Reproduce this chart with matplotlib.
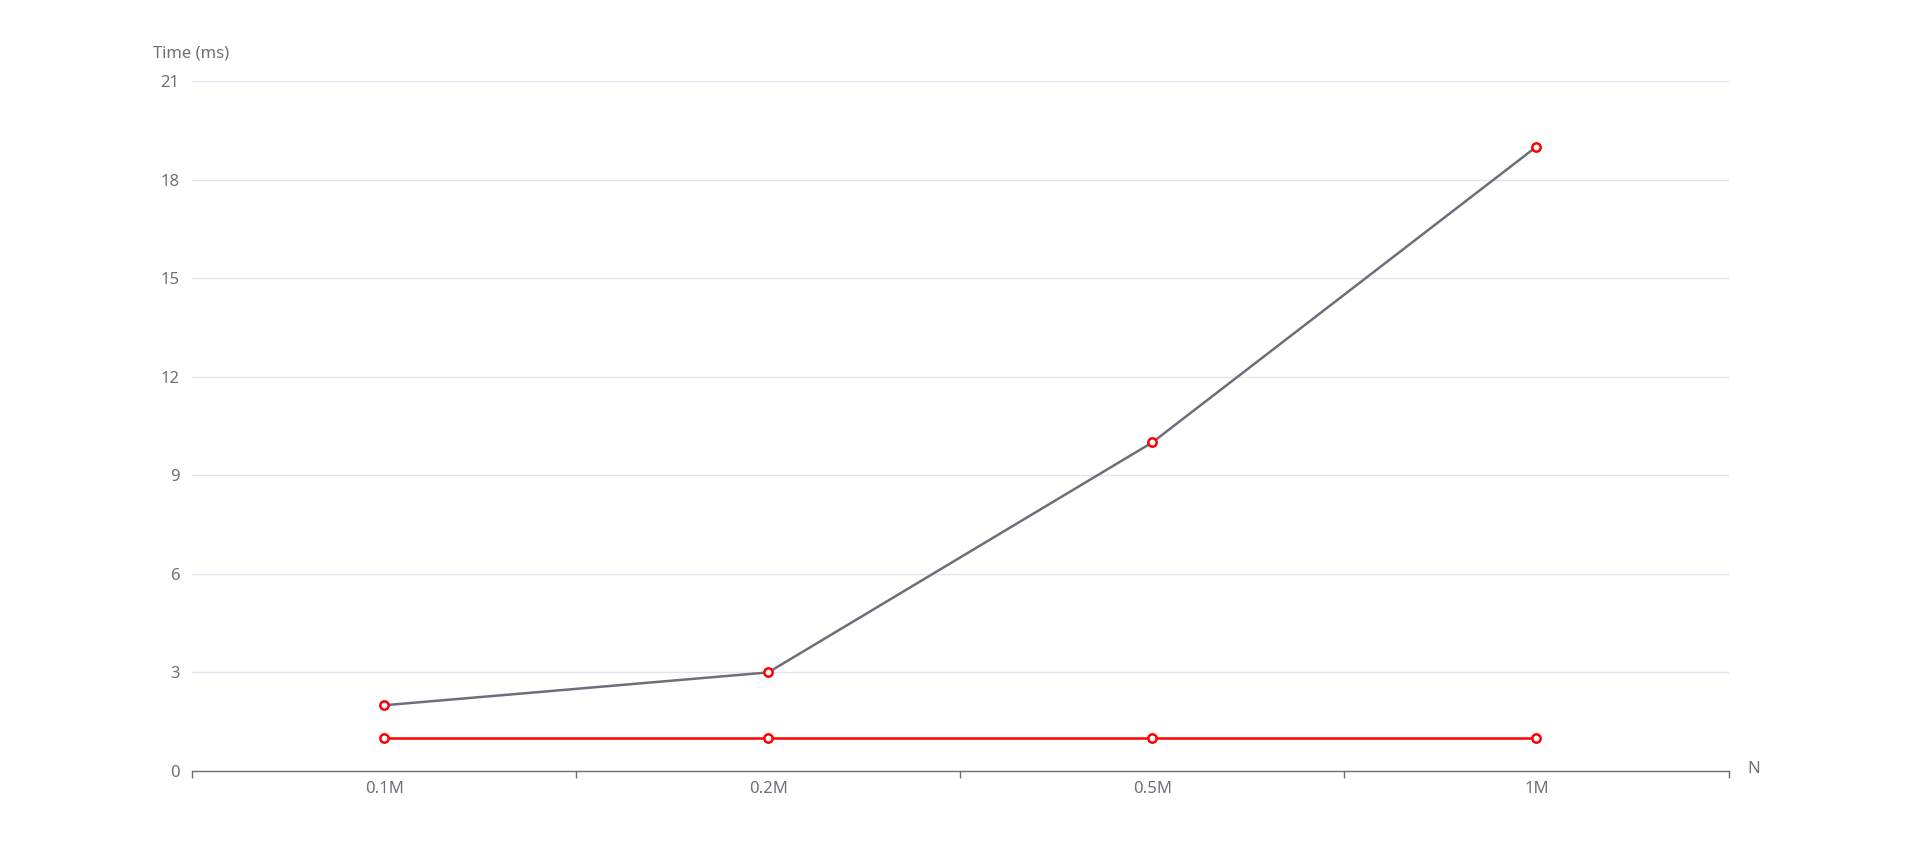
import matplotlib
matplotlib.use('Agg')
import matplotlib.pyplot as plt

categories = ['0.1M', '0.2M', '0.5M', '1M']
series_grey = [2, 3, 10, 19]
series_red = [1, 1, 1, 1]
y_ticks = [0, 3, 6, 9, 12, 15, 18, 21]

TEXT = '#6e7079'
GRID = '#e0e6f1'

plt.rcParams['font.family'] = ['Noto Sans', 'DejaVu Sans']

W, H = 1919, 865
fig = plt.figure(figsize=(W / 100, H / 100), dpi=100)
ax = fig.add_axes([192 / W, (H - 771) / H, (1728.5 - 192) / W, (771 - 81) / H])

x = list(range(len(categories)))
ax.plot(x, series_grey, color='#6e6e7a', lw=1.8, marker='o', ms=6,
        mfc='white', mec='#ff0000', mew=1.8, zorder=3)
ax.plot(x, series_red, color='#ff0000', lw=1.8, marker='o', ms=6,
        mfc='white', mec='#ff0000', mew=1.8, zorder=3)

ax.set_xlim(-0.5, len(categories) - 0.5)
ax.set_ylim(0, 21)
ax.set_yticks(y_ticks)
ax.set_yticklabels([str(t) for t in y_ticks], color=TEXT, fontsize=12)
ax.tick_params(axis='y', length=0, pad=9)
ax.grid(axis='y', color=GRID, lw=1)
ax.set_axisbelow(True)

ax.set_xticks(x)
ax.set_xticklabels(categories, color=TEXT, fontsize=12)
ax.tick_params(axis='x', length=0, pad=7)
ax.set_xticks([i - 0.5 for i in range(len(categories) + 1)], minor=True)
ax.tick_params(axis='x', which='minor', length=5, width=1, color=TEXT)

for s in ['top', 'right', 'left']:
    ax.spines[s].set_visible(False)
ax.spines['bottom'].set_color(TEXT)
ax.spines['bottom'].set_linewidth(1)

fig.text(153 / W, 1 - 53 / H, 'Time (ms)', color=TEXT, fontsize=12,
         ha='left', va='center')
fig.text(1747 / W, 1 - 769 / H, 'N', color=TEXT, fontsize=12,
         ha='left', va='center')

fig.savefig('out.png', dpi=100, facecolor='white')
